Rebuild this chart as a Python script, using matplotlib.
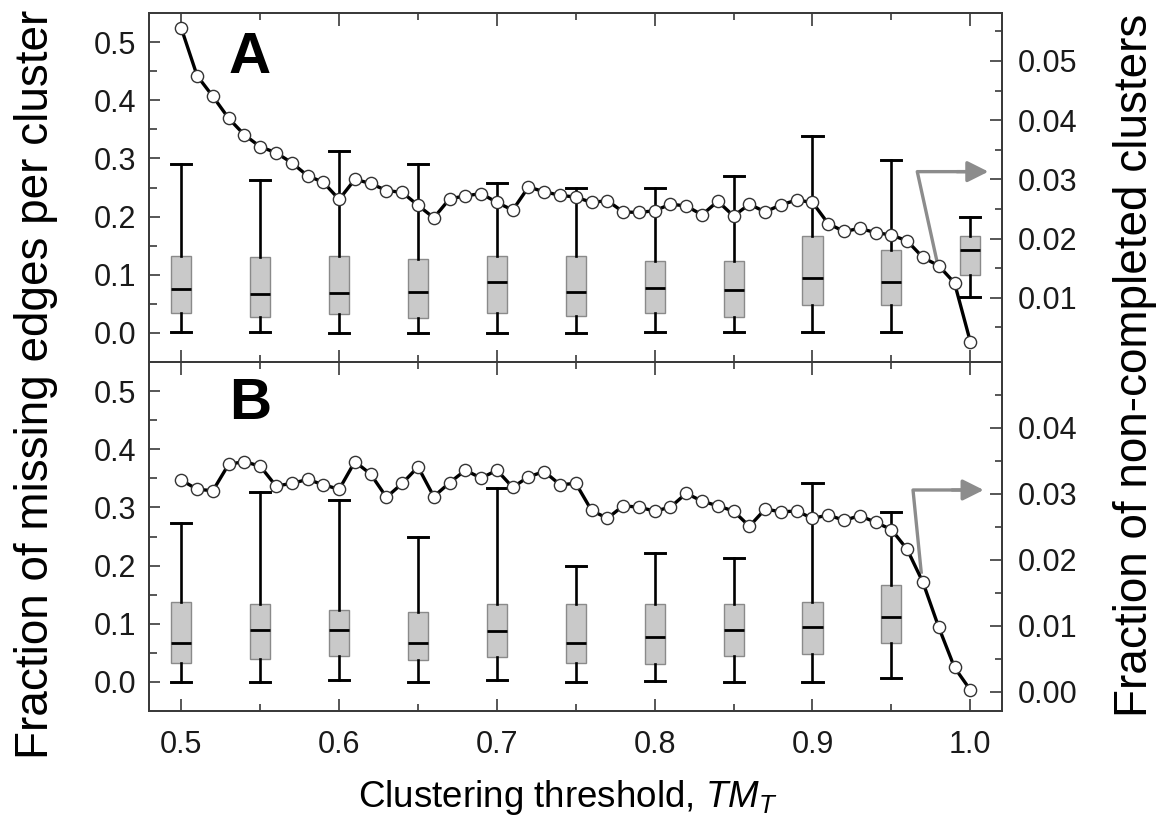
import matplotlib
matplotlib.use("Agg")
import matplotlib.pyplot as plt
from matplotlib.ticker import FixedLocator

plt.rcParams['font.family'] = ['Liberation Sans', 'DejaVu Sans']
plt.rcParams['mathtext.fontset'] = 'custom'
plt.rcParams['mathtext.rm'] = 'Liberation Sans'
plt.rcParams['mathtext.it'] = 'Liberation Sans:italic'

# ---------------- data ----------------
thresholds = [0.50, 0.51, 0.52, 0.53, 0.54, 0.55, 0.56, 0.57, 0.58, 0.59,
              0.60, 0.61, 0.62, 0.63, 0.64, 0.65, 0.66, 0.67, 0.68, 0.69,
              0.70, 0.71, 0.72, 0.73, 0.74, 0.75, 0.76, 0.77, 0.78, 0.79,
              0.80, 0.81, 0.82, 0.83, 0.84, 0.85, 0.86, 0.87, 0.88, 0.89,
              0.90, 0.91, 0.92, 0.93, 0.94, 0.95, 0.96, 0.97, 0.98, 0.99,
              1.00]

noncompleted_A = [0.0555, 0.0475, 0.0440, 0.0403, 0.0375, 0.0355, 0.0345, 0.0328, 0.0306, 0.0295,
                  0.0266, 0.0300, 0.0293, 0.0281, 0.0278, 0.0256, 0.0235, 0.0267, 0.0272, 0.0276,
                  0.0261, 0.0248, 0.0287, 0.0279, 0.0273, 0.0270, 0.0261, 0.0264, 0.0245, 0.0244,
                  0.0247, 0.0258, 0.0255, 0.0240, 0.0263, 0.0238, 0.0258, 0.0245, 0.0257, 0.0265,
                  0.0261, 0.0225, 0.0212, 0.0217, 0.0210, 0.0206, 0.0196, 0.0168, 0.0154, 0.0125,
                  0.0026]

noncompleted_B = [0.0321, 0.0307, 0.0305, 0.0345, 0.0349, 0.0342, 0.0312, 0.0316, 0.0322, 0.0314,
                  0.0307, 0.0349, 0.0330, 0.0295, 0.0316, 0.0341, 0.0296, 0.0317, 0.0336, 0.0324,
                  0.0336, 0.0310, 0.0326, 0.0334, 0.0314, 0.0316, 0.0275, 0.0263, 0.0282, 0.0280,
                  0.0274, 0.0280, 0.0301, 0.0289, 0.0282, 0.0274, 0.0251, 0.0277, 0.0273, 0.0274,
                  0.0263, 0.0268, 0.0260, 0.0267, 0.0257, 0.0246, 0.0216, 0.0166, 0.0098, 0.0037,
                  0.0003]

box_pos_A = [0.50, 0.55, 0.60, 0.65, 0.70, 0.75, 0.80, 0.85, 0.90, 0.95, 1.00]
whislo_A = [0.001, 0.001, 0.000, 0.000, 0.000, 0.000, 0.001, 0.001, 0.001, 0.001, 0.061]
q1_A     = [0.035, 0.027, 0.033, 0.025, 0.035, 0.029, 0.035, 0.028, 0.048, 0.048, 0.100]
med_A    = [0.076, 0.067, 0.068, 0.071, 0.088, 0.071, 0.078, 0.073, 0.095, 0.088, 0.142]
q3_A     = [0.133, 0.131, 0.133, 0.127, 0.133, 0.133, 0.124, 0.124, 0.166, 0.143, 0.166]
whishi_A = [0.291, 0.263, 0.312, 0.291, 0.258, 0.250, 0.249, 0.269, 0.338, 0.297, 0.200]

box_pos_B = [0.50, 0.55, 0.60, 0.65, 0.70, 0.75, 0.80, 0.85, 0.90, 0.95]
whislo_B = [0.000, 0.000, 0.004, 0.000, 0.003, 0.000, 0.001, 0.000, 0.000, 0.007]
q1_B     = [0.033, 0.039, 0.044, 0.037, 0.043, 0.033, 0.030, 0.045, 0.048, 0.067]
med_B    = [0.067, 0.090, 0.090, 0.067, 0.088, 0.067, 0.077, 0.090, 0.095, 0.112]
q3_B     = [0.137, 0.134, 0.124, 0.121, 0.134, 0.134, 0.134, 0.134, 0.137, 0.167]
whishi_B = [0.273, 0.326, 0.312, 0.250, 0.334, 0.200, 0.222, 0.213, 0.342, 0.292]

x_major = [0.5, 0.6, 0.7, 0.8, 0.9, 1.0]
x_minor = [0.55, 0.65, 0.75, 0.85, 0.95]
left_major = [0.0, 0.1, 0.2, 0.3, 0.4, 0.5]
left_minor = [0.05, 0.15, 0.25, 0.35, 0.45]
right_major_A = [0.01, 0.02, 0.03, 0.04, 0.05]
right_minor_A = [0.005, 0.015, 0.025, 0.035, 0.045, 0.055]
right_major_B = [0.00, 0.01, 0.02, 0.03, 0.04]
right_minor_B = [0.005, 0.015, 0.025, 0.035, 0.045]

# arrow geometry (start on curve -> corner -> arrow tip), in (x, right-axis) units
arrow_A = [(0.9795, 0.0154), (0.9664, 0.0313), (1.0115, 0.0313)]
arrow_B = [(0.9690, 0.0179), (0.9637, 0.0306), (1.0085, 0.0306)]

# ---------------- figure ----------------
W, H = 1167, 825
fig = plt.figure(figsize=(W / 100, H / 100), dpi=100)
L, R = 149 / W, 1002 / W
yA_top, yMid, yB_bot = 1 - 13 / H, 1 - 362 / H, 1 - 711 / H
axA = fig.add_axes([L, yMid, R - L, yA_top - yMid])
axB = fig.add_axes([L, yB_bot, R - L, yMid - yB_bot])

spine_col = '#3a3a3a'
TICK_FS = 22


def make_stats(lo, q1, med, q3, hi):
    return [dict(whislo=a, q1=b, med=c, q3=d, whishi=e, fliers=[], label='')
            for a, b, c, d, e in zip(lo, q1, med, q3, hi)]


def panel(ax, pos, lo, q1, med, q3, hi, line_vals, rlim, rmaj, rmin, label,
          label_y, arrow, show_xlabels):
    stats = make_stats(lo, q1, med, q3, hi)
    ax.bxp(stats, positions=pos, widths=0.0127, patch_artist=True,
           showfliers=False, manage_ticks=False,
           boxprops=dict(facecolor='#c9c9c9', edgecolor='#8a8a8a', linewidth=1.0),
           medianprops=dict(color='black', linewidth=2.0),
           whiskerprops=dict(color='black', linewidth=1.9),
           capprops=dict(color='black', linewidth=2.1),
           capwidths=0.0127)
    ax.set_xlim(0.4795, 1.0201)
    ax.set_ylim(-0.05, 0.55)
    ax.xaxis.set_major_locator(FixedLocator(x_major))
    ax.xaxis.set_minor_locator(FixedLocator(x_minor))
    ax.yaxis.set_major_locator(FixedLocator(left_major))
    ax.yaxis.set_minor_locator(FixedLocator(left_minor))
    ax.set_yticklabels(['%.1f' % v for v in left_major])
    ax.tick_params(axis='both', which='both', direction='in', width=1.2,
                   color=spine_col, labelsize=TICK_FS, labelcolor='#1a1a1a')
    ax.tick_params(axis='y', which='major', length=8, pad=9, left=True, right=False)
    ax.tick_params(axis='y', which='minor', length=6, left=True, right=False)
    ax.tick_params(axis='x', which='major', length=9, top=True, bottom=True, pad=14)
    ax.tick_params(axis='x', which='minor', length=5, top=True, bottom=True)
    if show_xlabels:
        ax.set_xticklabels(['%.1f' % v for v in x_major])
    else:
        ax.tick_params(axis='x', labelbottom=False)
    for s in ax.spines.values():
        s.set_color(spine_col)
        s.set_linewidth(1.3)

    axr = ax.twinx()
    axr.set_xlim(0.4795, 1.0201)
    axr.set_ylim(*rlim)
    axr.plot(thresholds, line_vals, color='black', lw=2.4, marker='o',
             markersize=8.8, markerfacecolor='white', markeredgecolor='#333333',
             markeredgewidth=1.0, zorder=5)
    axr.yaxis.set_major_locator(FixedLocator(rmaj))
    axr.yaxis.set_minor_locator(FixedLocator(rmin))
    axr.set_yticklabels(['%.2f' % v for v in rmaj])
    axr.tick_params(axis='y', which='both', direction='in', width=1.2,
                    color=spine_col, labelsize=TICK_FS, labelcolor='#1a1a1a')
    axr.tick_params(axis='y', which='major', length=9, pad=11)
    axr.tick_params(axis='y', which='minor', length=5)
    for s in axr.spines.values():
        s.set_color(spine_col)
        s.set_linewidth(1.3)

    (x0, y0), (xc, yc), (xe, ye) = arrow
    axr.plot([x0, xc, xe - 0.012], [y0, yc, ye], color='#8c8c8c', lw=2.4,
             solid_capstyle='butt', zorder=4, clip_on=False)
    axr.annotate('', xy=(xe, ye), xytext=(xe - 0.02, ye),
                 arrowprops=dict(arrowstyle='-|>', color='#8c8c8c', lw=2.4,
                                 mutation_scale=32, shrinkA=0, shrinkB=0),
                 annotation_clip=False, zorder=4)

    ax.text(0.5435, label_y, label, fontsize=42, fontweight='bold',
            ha='center', va='center')
    return axr


panel(axA, box_pos_A, whislo_A, q1_A, med_A, q3_A, whishi_A, noncompleted_A,
      (-0.00086, 0.0581), right_major_A, right_minor_A, 'A', 0.473, arrow_A, False)
panel(axB, box_pos_B, whislo_B, q1_B, med_B, q3_B, whishi_B, noncompleted_B,
      (-0.0029, 0.0500), right_major_B, right_minor_B, 'B', 0.477, arrow_B, True)

fig.text(48 / W, 1 - 384 / H, 'Fraction of missing edges per cluster',
         rotation=90, rotation_mode='anchor', ha='center', va='baseline',
         fontsize=33)
fig.text(1147 / W, 1 - 365 / H, 'Fraction of non-completed clusters',
         rotation=90, rotation_mode='anchor', ha='center', va='baseline',
         fontsize=33)
fig.text(358 / W, 1 - 806.7 / H, r'Clustering threshold, $\mathit{TM}_{\mathit{T}}$',
         ha='left', va='baseline', fontsize=26.5)

fig.savefig('out.png', dpi=100)
